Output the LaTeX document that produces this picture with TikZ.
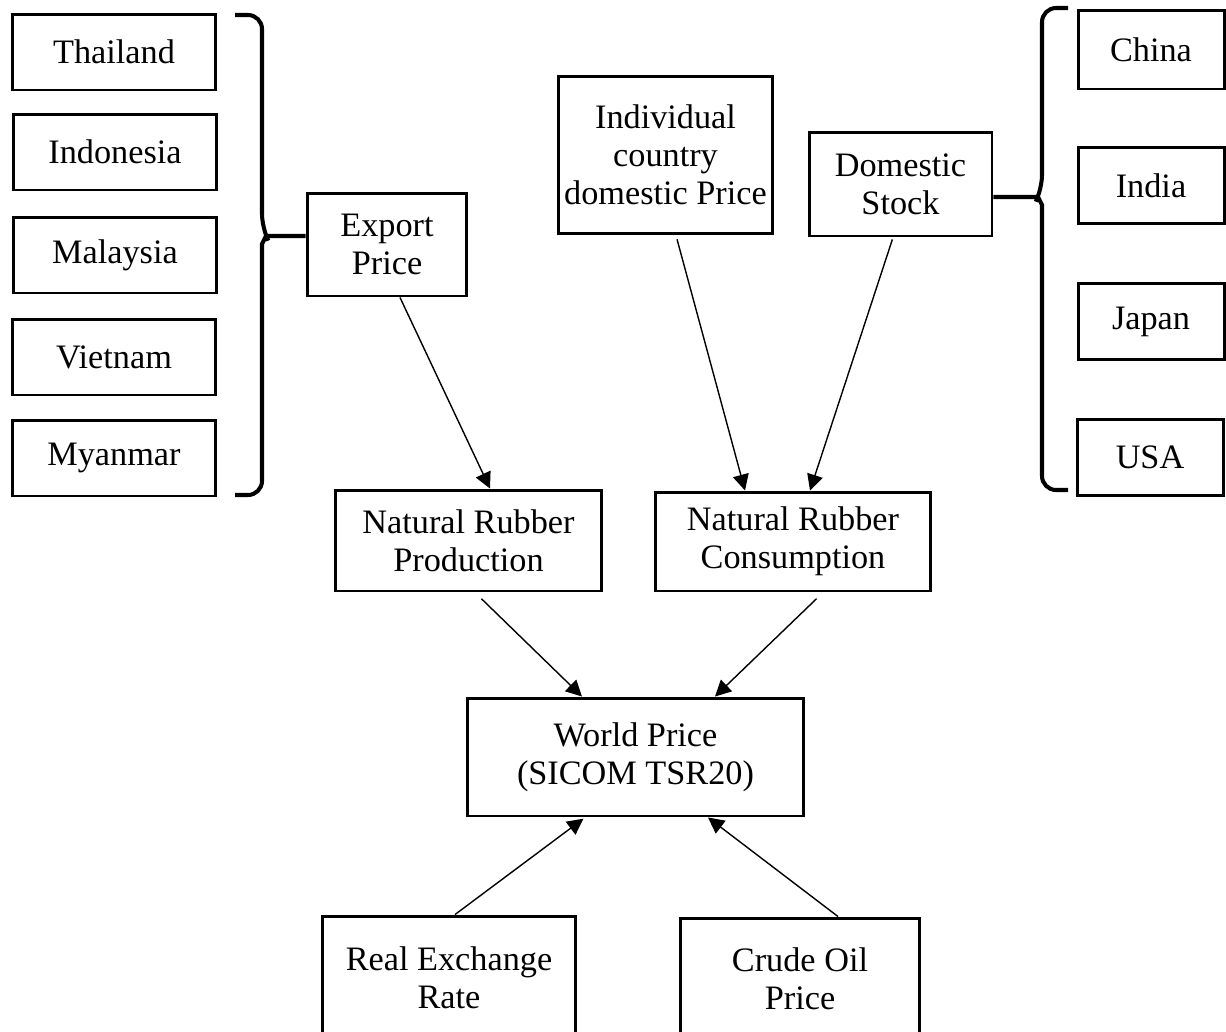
\documentclass[tikz,border=0pt]{standalone}
\usepackage{fontspec}
\setmainfont{Liberation Serif}
\usetikzlibrary{arrows.meta}
\tikzset{%
  >={Triangle[width=3.2mm,length=3.2mm]},
  % Specifications for style of nodes:
            base/.style = {rectangle, draw=black, line width=1.7pt,
                           text centered, align=center,
                           font=\fontsize{19.5}{21.6}\selectfont, fill=white},
         country/.style = {base, minimum width=4.08cm, minimum height=1.52cm},
        consumer/.style = {base, minimum width=2.92cm, minimum height=1.52cm},
           brace/.style = {line width=2.3pt, rounded corners=8pt},
            link/.style = {->, line width=0.8pt}
}

\begin{document}
\begin{tikzpicture}[x=0.02cm, y=0.02cm]
  \useasboundingbox (0,0) rectangle (1226,-1031);

  % Producing countries (left column)
  \node (thai)   [country] at (114,-52)  {Thailand};
  \node (indo)   [country] at (115,-152) {Indonesia};
  \node (malay)  [country] at (115,-255) {Malaysia};
  \node (viet)   [country] at (114,-357) {Vietnam};
  \node (myan)   [country] at (114,-458) {Myanmar};

  % Consuming countries (right column)
  \node (china)  [consumer, minimum height=1.58cm] at (1151,-49.5) {China};
  \node (india)  [consumer] at (1151,-185.5) {India};
  \node (japan)  [consumer] at (1151,-321.5) {Japan};
  \node (usa)    [consumer] at (1150,-457.5) {USA};

  % Price and stock nodes
  \node (export) [base, minimum width=3.2cm, minimum height=2.06cm]
        at (387,-244.5) {Export\\Price};
  \node (indiv)  [base, minimum width=4.3cm, minimum height=3.16cm]
        at (665.5,-155) {Individual\\country\\domestic Price};
  \node (stock)  [base, minimum width=3.66cm, minimum height=2.08cm]
        at (900.5,-184) {Domestic\\Stock};

  % Production and consumption
  \node (prod)   [base, minimum width=5.34cm, minimum height=2.02cm]
        at (468.5,-540.5) {Natural Rubber\\Production};
  \node (cons)   [base, minimum width=5.52cm, minimum height=1.98cm]
        at (793,-541.5) {Natural Rubber\\Consumption};

  % World price and external factors
  \node (world)  [base, minimum width=6.74cm, minimum height=2.36cm]
        at (635.5,-757) {World Price\\(SICOM TSR20)};
  \node (rer)    [base, minimum width=5.08cm, minimum height=2.48cm]
        at (449,-978) {Real Exchange\\Rate};
  \node (oil)    [base, minimum width=4.8cm, minimum height=2.44cm]
        at (800,-979) {Crude Oil\\Price};

  % Braces grouping the countries (with a small point at the middle)
  \draw[brace] (235,-15) -- (262,-15) -- (262,-228)
        [sharp corners] -- (266,-236) -- (262,-244)
        [rounded corners=8pt] -- (262,-495) -- (235,-495);
  \coordinate (lbrace) at (266,-236);
  \draw[brace] (1068,-8) -- (1042,-8) -- (1042,-189)
        [sharp corners] -- (1038,-197) -- (1042,-205)
        [rounded corners=8pt] -- (1042,-490) -- (1068,-490);
  \coordinate (rbrace) at (1038,-197);

  \draw[line width=2.3pt] (lbrace) -- ([yshift=0.17cm]export.west);
  \draw[line width=2.3pt] (rbrace) -- ([yshift=-0.26cm]stock.east);

  % Arrows between nodes
  \draw[link] ([xshift=0.26cm]export.south) -- ([xshift=0.43cm]prod.north);
  \draw[link, shorten <=0.08cm] ([xshift=0.21cm]indiv.south) -- ([xshift=-0.96cm]cons.north);
  \draw[link, shorten <=0.04cm] ([xshift=-0.15cm]stock.south) -- ([xshift=0.34cm]cons.north);
  \draw[link, shorten <=0.18cm] ([xshift=0.13cm]prod.south) -- ([xshift=-1.07cm]world.north);
  \draw[link, shorten <=0.18cm] ([xshift=0.6cm]cons.south) -- ([xshift=1.59cm]world.north);
  \draw[link, shorten >=0.04cm] ([xshift=0.12cm]rer.north) -- ([xshift=-1.01cm]world.south);
  \draw[link] ([xshift=0.76cm]oil.north) -- ([xshift=1.45cm]world.south);
\end{tikzpicture}
\end{document}
